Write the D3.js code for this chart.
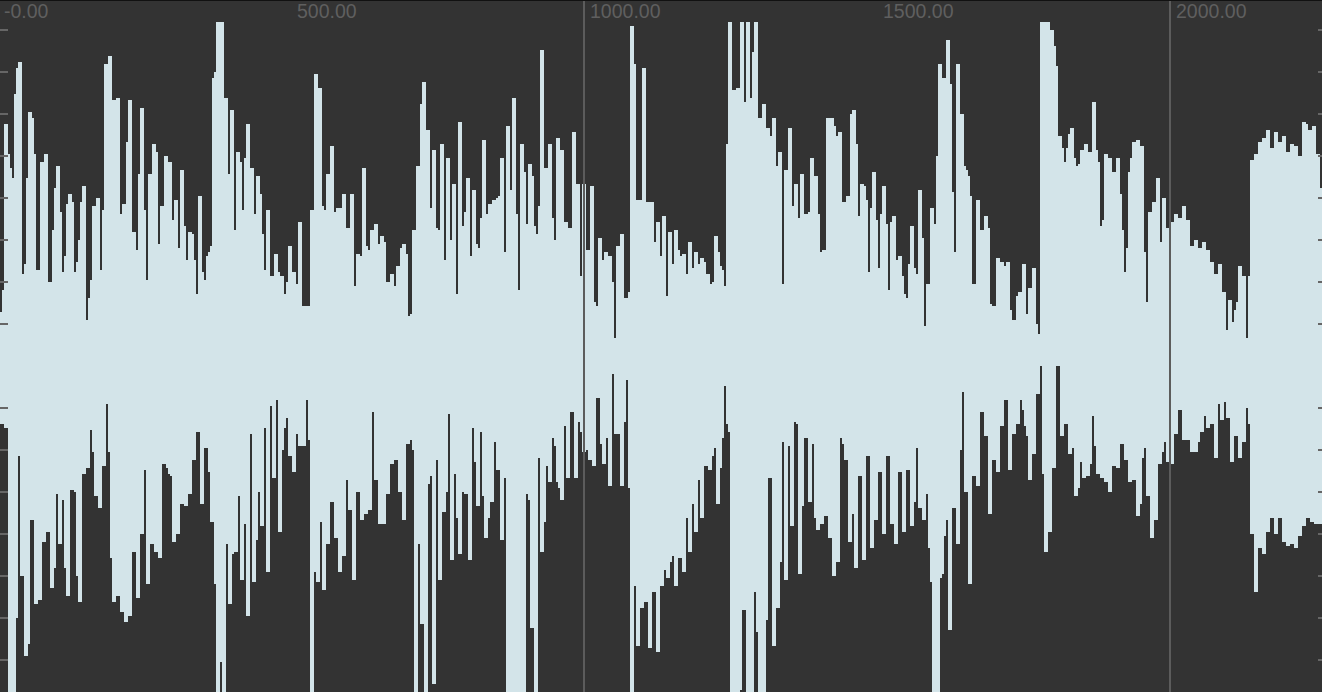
<!DOCTYPE html>
<html><head><meta charset="utf-8">
<style>html,body{margin:0;padding:0;background:#333;overflow:hidden}svg{display:block}</style>
<script src="https://cdnjs.cloudflare.com/ajax/libs/d3/7.8.5/d3.min.js"></script>
</head><body><div id="chart"></div>
<script>
const xTicks=[0,500,1000,1500,2000];
const xTickLabels=["-0.00","500.00","1000.00","1500.00","2000.00"];
const majorX=[1000,2000];
const levelTicks=[-168,-147,-126,-105,-84,-63,-42,-21,21,42,63,84,105,126,147,168];
const top1=[27,38,121,121,106,99,94,136,149,152,152,46,51,94,127,127,124,106,48,48,102,102,106,106,42,42,68,89,100,100,77,47,55,81,86,86,82,47,52,63,82,90,90,23,34,43,80,80,84,84,48,78,151,151,155,155,133,133,134,134,76,81,81,112,133,133,67,67,58,96,129,129,78,43,96,96,111,111,107,61,80,80,105,105,102,102,73,83,83,59,98,98,70,53,67,67,66,53,36,85,85,47,43,55,57,60,144,147,172,172,172,172,134,134,96,128,128,68,107,107,102,78,104,121,121,99,99,76,95,95,86,66,48,78,78,45,45,56,56,47,45,45,36,42,60,60,47,47,41,72,72,30,30,30,30,78,78,146,146,139,139,80,78,96,96];
const bottom1=[29,29,31,31,172,172,172,172,126,45,105,105,145,145,139,77,77,119,119,117,117,88,88,83,83,111,111,101,64,89,89,67,101,115,115,62,62,63,105,118,118,54,54,51,51,32,43,65,65,71,71,50,50,19,43,96,118,118,115,115,123,123,128,128,125,125,93,93,116,116,84,84,52,109,109,89,89,93,93,96,96,49,49,51,54,55,88,88,84,84,69,69,70,70,64,64,47,47,33,33,69,69,41,41,53,78,78,109,172,172,148,172,172,89,119,119,94,93,93,65,107,107,79,125,125,34,108,108,87,63,80,80,31,103,103,20,56,56,17,83,83,42,31,26,45,45,53,53,34,40,40,40,40,17,37,172,172,103,108,108,78,112,112,89,89];
const top2=[110,110,77,79,79,79,86,86,69,69,86,86,40,56,56,55,99,99,60,58,68,68,71,71,61,65,65,62,42,42,46,46,40,50,50,59,61,61,56,25,26,68,68,100,100,131,142,142,118,118,79,108,108,69,68,111,111,53,104,104,63,91,91,36,122,122,70,77,94,94,55,88,88,61,59,74,113,113,76,81,81,83,83,84,85,104,104,57,120,120,88,134,134,76,38,111,111,97,71,101,101,95,70,66,80,158,158,99,99,111,111,74,63,114,114,108,108,72,72,69,69,117,117,91,91,45,91,91,58,58,90,90,32,30,64,64,53,57,57,55,55,42,14,60,60,66,66,34,34,37,170,170,151,83,83,83,149,149,82,82,82,82,62,72,72];
const bottom2=[68,68,86,86,103,103,95,95,57,72,72,107,107,63,63,77,77,74,74,72,72,23,57,57,79,79,79,79,64,64,49,49,47,47,63,63,77,77,39,39,37,42,172,172,89,129,129,172,172,59,55,159,159,47,107,107,73,73,63,24,97,97,54,76,94,94,63,64,64,97,97,31,48,70,70,33,65,86,86,76,68,68,38,52,52,87,87,56,172,172,172,172,172,172,172,172,172,172,64,67,131,131,172,172,46,93,93,78,50,58,58,36,40,58,61,67,67,30,56,56,23,23,56,56,28,33,43,43,42,47,47,50,50,16,16,39,49,49,36,60,60,4,34,34,34,60,60,28,7,61,172,172,110,140,140,121,121,118,118,141,141,113,113,143,143];
const top3=[55,75,75,35,67,67,51,68,68,58,55,56,56,46,62,62,49,57,57,51,54,54,52,46,46,41,42,65,65,57,50,48,40,111,172,172,138,138,139,139,172,172,132,172,172,134,157,172,172,124,124,131,131,119,119,115,124,124,100,107,107,41,98,98,119,119,80,91,91,74,96,96,76,76,77,104,104,95,95,76,57,58,58,124,124,124,124,120,115,117,117,82,82,85,85,126,128,128,111,75,91,91,90,83,47,79,97,97,73,49,76,90,90,71,38,72,75,75,53,55,55,45,36,34,51,70,70,49,46,88,88,64,20,41,41,79,79,71,105,151,151,144,144,163,163,141,87,57,151,151,126,126,100,98,95,85,41,41,83,83,68,68,75,75,69];
const bottom3=[110,110,102,106,106,98,95,110,110,96,96,103,103,76,93,93,69,83,83,57,76,76,50,50,52,52,45,41,69,69,51,36,10,29,33,172,172,172,172,172,162,122,122,172,172,172,172,113,133,172,172,172,172,127,56,56,140,140,121,121,98,38,107,107,40,80,80,28,29,104,104,70,36,36,68,68,39,76,82,82,79,79,75,75,86,86,105,105,98,98,36,39,47,47,88,88,74,101,101,55,55,97,97,45,45,91,91,77,77,53,53,84,84,45,45,79,79,89,89,53,53,83,83,52,52,80,80,68,41,71,71,77,77,64,91,108,172,172,172,172,106,104,85,77,132,132,71,71,89,89,42,13,63,63,109,109,55,55,60,60,23,23,35,35,74];
const top4=[31,30,30,54,54,52,52,50,52,52,28,23,23,35,37,37,51,51,26,39,39,49,49,21,16,172,172,172,172,172,168,168,160,150,115,115,109,102,109,116,119,119,104,100,101,108,108,111,111,107,107,132,132,108,102,70,73,106,106,104,104,97,97,104,104,86,68,47,59,97,104,112,112,113,113,110,110,57,32,77,77,82,82,94,94,62,84,84,69,69,72,72,76,76,74,74,80,80,73,73,60,60,63,63,59,59,62,62,58,58,52,52,46,46,51,51,37,37,18,33,33,22,28,32,50,50,45,45,14,45,103,103,106,106,112,112,114,114,118,118,109,109,117,117,112,112,115,115,107,107,111,111,110,110,105,105,122,122,121,118,118,120,120,106,106,89];
const bottom4=[74,47,47,53,53,30,30,17,17,52,52,34,34,29,29,17,22,30,35,57,57,44,44,14,14,0,54,93,93,83,83,51,51,0,0,35,35,29,29,44,44,41,65,65,61,48,56,56,55,55,49,25,40,54,54,56,56,58,58,63,63,50,50,51,51,39,39,47,47,58,58,57,57,75,75,69,46,41,65,65,86,86,77,77,49,49,43,38,48,48,49,49,34,34,22,22,37,37,37,37,43,43,43,43,38,33,33,25,31,31,29,29,46,46,19,27,27,18,26,26,48,48,35,35,46,46,38,38,21,29,84,84,113,113,91,91,94,94,83,83,76,76,84,84,76,76,88,88,90,90,89,89,91,91,85,85,80,80,76,76,78,78,79,79,79,79];
const panelStarts=[0,165,330,495];
const tops=[top1,top2,top3,top4];
const bottoms=[bottom1,bottom2,bottom3,bottom4];

const W=1322,H=692;
const svg=d3.select("#chart").append("svg").attr("width",W).attr("height",H);
svg.append("rect").attr("width",W).attr("height",H).attr("fill","#333333");
const barX=d3.scaleLinear().domain([0,661]).range([0,W]);
const x=d3.scaleLinear().domain([0,2000]).range([-2,1170]);
const y=d3.scaleLinear().domain([-172,172]).range([710,22]);
const bars=[];
panelStarts.forEach((s,p)=>tops[p].forEach((t,i)=>bars.push({i:s+i,t,b:bottoms[p][i]})));
svg.append("g").attr("shape-rendering","crispEdges").selectAll("rect").data(bars).join("rect")
 .attr("x",d=>barX(d.i)).attr("width",d=>barX(d.i+1)-barX(d.i))
 .attr("y",d=>y(d.t)).attr("height",d=>y(-d.b)-y(d.t)).attr("fill","#d3e4e9");
svg.append("g").attr("shape-rendering","crispEdges").selectAll("rect").data(majorX).join("rect")
 .attr("x",d=>x(d)-1).attr("y",0).attr("width",2).attr("height",H).attr("fill","#5c5c5c");
const g=svg.append("g").attr("shape-rendering","crispEdges");
g.selectAll("rect.l").data(levelTicks).join("rect").attr("class","l").attr("x",0).attr("y",d=>y(d)-1).attr("width",8).attr("height",2).attr("fill","#666666");
g.selectAll("rect.r").data(levelTicks).join("rect").attr("class","r").attr("x",W-4).attr("y",d=>y(d)-1).attr("width",4).attr("height",2).attr("fill","#666666");
svg.append("g").selectAll("text").data(xTicks).join("text")
 .attr("x",d=>x(d)+6).attr("y",18).attr("fill","#5f5f5f")
 .attr("font-family","Liberation Sans, Arial, sans-serif").attr("font-size",19.5)
 .text((d,i)=>xTickLabels[i]);
svg.append("rect").attr("width",W).attr("height",1).attr("fill","#111111");
</script></body></html>
